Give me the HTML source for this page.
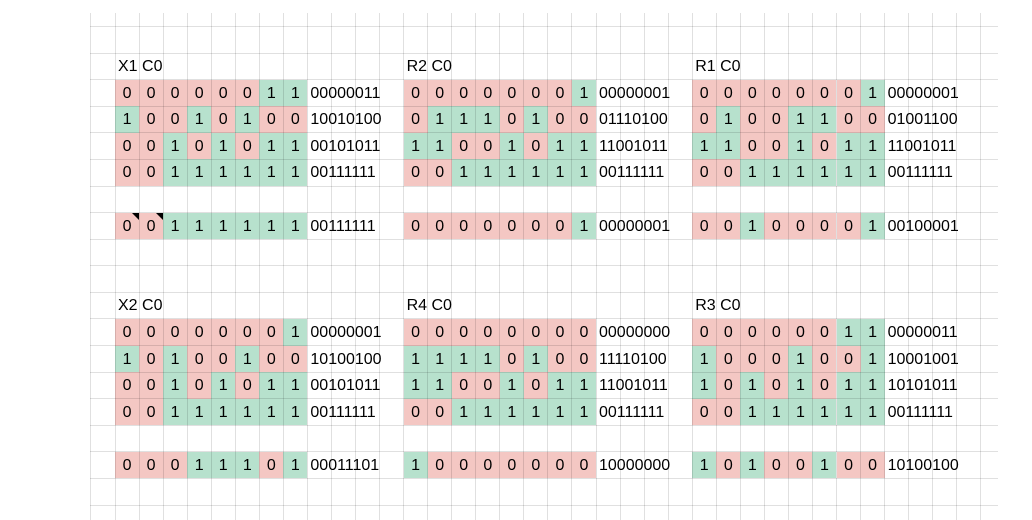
<!DOCTYPE html>
<html><head><meta charset="utf-8">
<style>
body{margin:0;background:#fff;width:1032px;height:520px;overflow:hidden;font-family:"Liberation Sans",Arial,sans-serif;}
#sheet{position:absolute;left:0;top:0;width:1032px;height:520px;}
.c{position:absolute;font-size:16px;color:#000;line-height:27px;box-sizing:border-box;}
.b{text-align:center;}
.s{padding-left:3px;white-space:nowrap;}
.gl{position:absolute;background:rgba(0,0,0,0.12);}
.tri{position:absolute;width:0;height:0;border-top:7px solid #000;border-left:7px solid transparent;}
</style></head><body>
<div id="sheet"></div>
<script>
const blockNames=["X1 C0","R2 C0","R1 C0","X2 C0","R4 C0","R3 C0"];
const blockRows=[
["00000011","10010100","00101011","00111111"],
["00000001","01110100","11001011","00111111"],
["00000001","01001100","11001011","00111111"],
["00000001","10100100","00101011","00111111"],
["00000000","11110100","11001011","00111111"],
["00000011","10001001","10101011","00111111"]];
const blockResults=["00111111","00000001","00100001","00011101","10000000","10100100"];

const sheet=document.getElementById('sheet');
const CW=24.05,X0=115,RH=26.58,Y0=0;
const cx=k=>X0+CW*k, ry=r=>Y0+RH*r;
function cell(col,row,w,txt,cls,bg){
  const d=document.createElement('div');
  d.className='c '+cls;
  d.style.left=cx(col)+'px';d.style.top=ry(row)+'px';
  d.style.width=(w*CW)+'px';d.style.height=RH+'px';
  if(bg)d.style.background=bg;
  d.textContent=txt;
  sheet.appendChild(d);return d;
}
const PINK='#f4c7c3',GREEN='#b7e1cd';
blockNames.forEach((name,i)=>{
  const bc=(i%3)*12, br=i<3?2:11;
  const t=cell(bc,br,4,name,'s',null);
  
  
  const rows=blockRows[i].concat([null,blockResults[i]]);
  rows.forEach((str,ri)=>{
    if(str===null)return;
    for(let k=0;k<8;k++){
      const v=str[k];
      const d=cell(bc+k,br+1+ri,1,v,'b',v==='1'?GREEN:PINK);
      
      
      if(i===0&&ri===5&&k<2){
        const tr=document.createElement('div');tr.className='tri';
        tr.style.right='0';tr.style.top='0';
        
        
        d.appendChild(tr);
      }
    }
    const s=cell(bc+8,br+1+ri,4,str,'s',null);
    
    
  });
});
for(let k=-1;k<=36;k++){
  const l=document.createElement('div');l.className='gl';
  l.style.left=(cx(k)-0.5)+'px';l.style.top='13px';l.style.width='1px';l.style.height='507px';
  
  
  sheet.appendChild(l);
}
for(let r=1;r<=19;r++){
  const l=document.createElement('div');l.className='gl';
  l.style.left='90px';l.style.top=(ry(r)-0.5)+'px';l.style.width='908px';l.style.height='1px';
  
  
  sheet.appendChild(l);
}
</script>
</body></html>
